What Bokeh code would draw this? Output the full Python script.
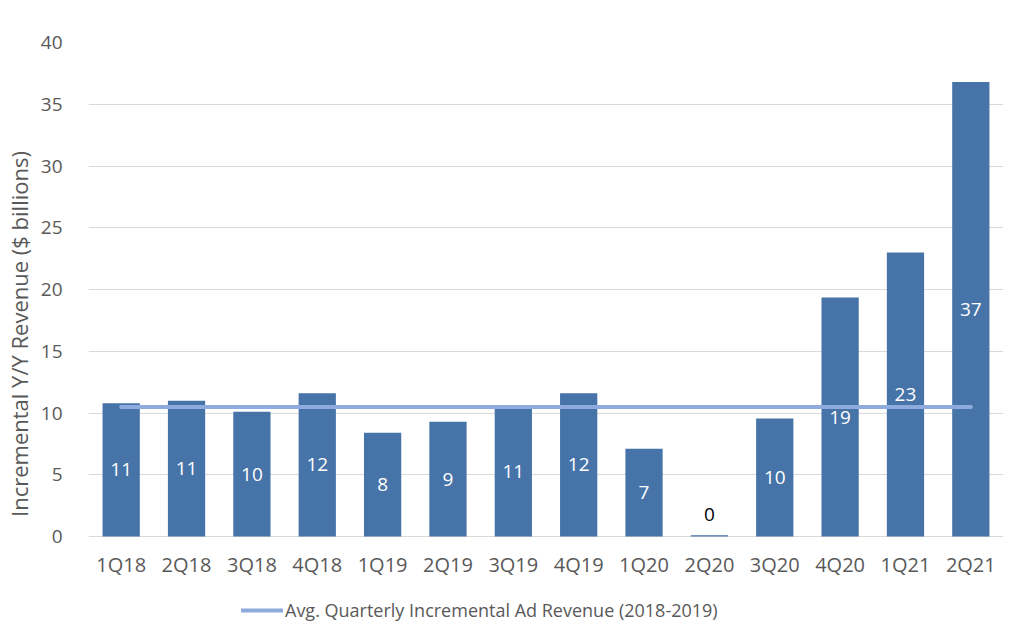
from bokeh.plotting import figure
from bokeh.models import ColumnDataSource, FactorRange, Range1d, Legend, LegendItem, FixedTicker
from bokeh.embed import file_html
from bokeh.resources import INLINE
from bokeh.core.properties import value

quarters = ["1Q18", "2Q18", "3Q18", "4Q18", "1Q19", "2Q19", "3Q19", "4Q19",
            "1Q20", "2Q20", "3Q20", "4Q20", "1Q21", "2Q21"]
revenue = [10.8, 11.0, 10.1, 11.6, 8.4, 9.3, 10.5, 11.6, 7.1, 0.1, 9.55, 19.35, 23.0, 36.8]
labels = ["11", "11", "10", "12", "8", "9", "11", "12", "7", "0", "10", "19", "23", "37"]
y_ticks = [0, 5, 10, 15, 20, 25, 30, 35, 40]
avg_2018_2019 = 10.5
legend_label = "Avg. Quarterly Incremental Ad Revenue (2018-2019)"

FONT = "Open Sans"
GREY = "#595959"

label_y = [v / 2 if v > 1 else v + 1.7 for v in revenue]
label_color = ["white" if v > 1 else "black" for v in revenue]

src = ColumnDataSource(dict(q=quarters, v=revenue, ly=label_y, lt=labels, lc=label_color))

# the frame extends below zero to leave room for the category labels and legend
p = figure(x_range=FactorRange(*quarters, range_padding=0.0), y_range=Range1d(-7.2, 40),
           width=1007, height=625, output_backend="svg", toolbar_location=None,
           min_border_left=84, min_border_right=8, min_border_top=42, min_border_bottom=0)
p.frame_width = 915
p.frame_height = 583
p.outline_line_color = None
p.background_fill_color = "white"

p.vbar(x="q", top="v", width=0.57, source=src, fill_color="#4673A8", line_color=None)
p.text(x="q", y="ly", text="lt", text_color="lc", source=src, text_align="center",
       text_baseline="middle", text_font=value(FONT), text_font_size="19px")

ln = p.line(x=[quarters[0], quarters[-1]], y=[avg_2018_2019, avg_2018_2019],
            line_color="#8FAADC", line_width=4, line_cap="round")

p.xgrid.grid_line_color = None
p.yaxis.ticker = FixedTicker(ticks=y_ticks)
p.ygrid.grid_line_color = "#D9D9D9"
p.ygrid.grid_line_width = 1

for ax in (p.xaxis, p.yaxis):
    ax.axis_line_color = None
    ax.major_tick_line_color = None
    ax.minor_tick_line_color = None
    ax.major_label_text_font = FONT
    ax.major_label_text_color = GREY

p.xaxis.fixed_location = 0
p.xaxis.major_label_standoff = 8
p.xaxis.major_label_text_font_size = "20px"
p.yaxis.major_label_text_font_size = "19px"
p.yaxis.major_label_standoff = 20
p.yaxis.axis_label = "Incremental Y/Y Revenue ($ billions)"
p.yaxis.axis_label_text_font = FONT
p.yaxis.axis_label_text_font_size = "22px"
p.yaxis.axis_label_text_font_style = "normal"
p.yaxis.axis_label_text_color = GREY
p.yaxis.axis_label_standoff = 4

legend = Legend(items=[LegendItem(label=legend_label, renderers=[ln])],
                location=(153, 3), orientation="horizontal",
                label_text_font=FONT, label_text_font_size="18px", label_text_color=GREY,
                glyph_width=42, label_standoff=2, padding=0, margin=0,
                border_line_color=None, background_fill_alpha=0)
p.add_layout(legend)

open("out.html", "w").write(file_html(p, INLINE))
